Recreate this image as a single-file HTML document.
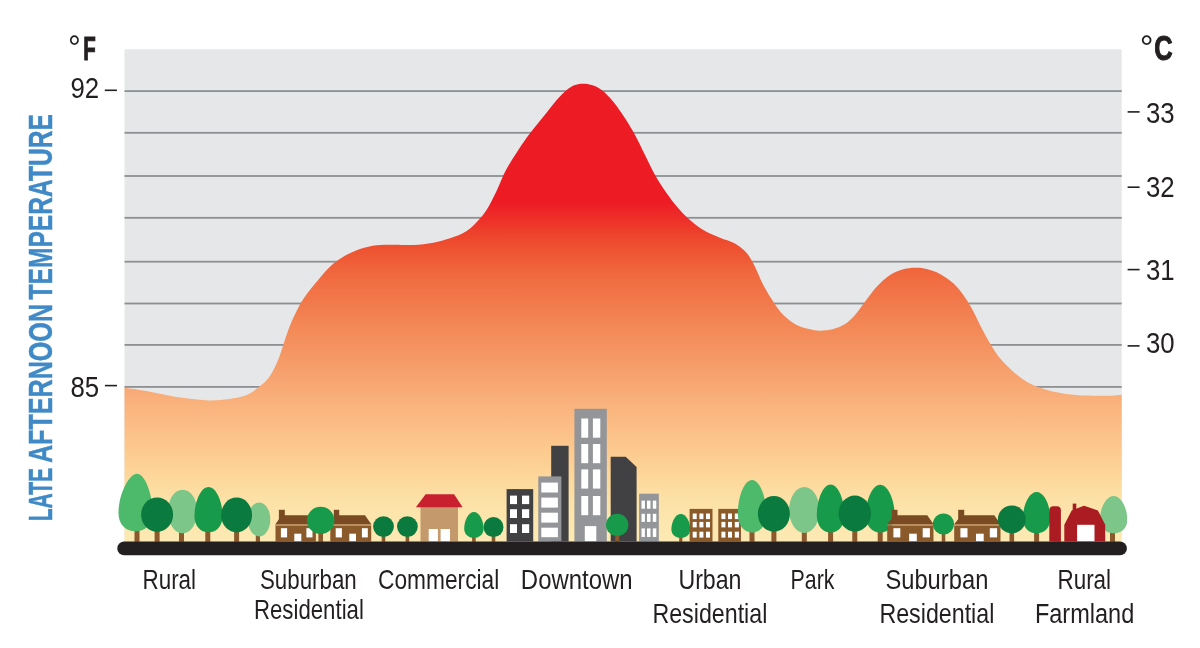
<!DOCTYPE html>
<html lang="en"><head><meta charset="utf-8"><title>Urban heat island profile</title>
<style>html,body{margin:0;padding:0;background:#fff}svg{display:block}</style></head>
<body>
<svg width="1200" height="648" viewBox="0 0 1200 648">
<defs><linearGradient id="heat" gradientUnits="userSpaceOnUse" x1="0" y1="83" x2="0" y2="542">
<stop offset="0.0000" stop-color="#ed1c24"/>
<stop offset="0.2614" stop-color="#ed1c24"/>
<stop offset="0.3529" stop-color="#ee4f2f"/>
<stop offset="0.4183" stop-color="#f0693f"/>
<stop offset="0.5381" stop-color="#f38a58"/>
<stop offset="0.6253" stop-color="#f69f6c"/>
<stop offset="0.6906" stop-color="#f9b07a"/>
<stop offset="0.7451" stop-color="#fbbd85"/>
<stop offset="0.7996" stop-color="#fcc98f"/>
<stop offset="0.8540" stop-color="#fdd69a"/>
<stop offset="0.9085" stop-color="#fce1a6"/>
<stop offset="0.9521" stop-color="#fce6ae"/>
<stop offset="1.0000" stop-color="#fce9b3"/>
</linearGradient></defs>
<rect width="1200" height="648" fill="#fff"/>
<rect x="124.5" y="49.3" width="997.2" height="492.7" fill="#e6e7e8"/>
<rect x="124.5" y="90.20" width="997.2" height="1.8" fill="#8d8f92"/>
<rect x="124.5" y="131.90" width="997.2" height="1.8" fill="#8d8f92"/>
<rect x="124.5" y="175.10" width="997.2" height="1.8" fill="#8d8f92"/>
<rect x="124.5" y="216.90" width="997.2" height="1.8" fill="#8d8f92"/>
<rect x="124.5" y="260.80" width="997.2" height="1.8" fill="#8d8f92"/>
<rect x="124.5" y="302.60" width="997.2" height="1.8" fill="#8d8f92"/>
<rect x="124.5" y="344.00" width="997.2" height="1.8" fill="#8d8f92"/>
<rect x="124.5" y="386.00" width="997.2" height="1.8" fill="#8d8f92"/>
<path d="M124.5,387.8 C128.8,388.4 141.6,390.2 150.0,391.7 C158.4,393.2 166.2,395.3 175.0,396.7 C183.8,398.1 196.1,399.4 203.0,400.0 C209.9,400.6 211.2,400.6 216.3,400.3 C221.4,400.0 228.2,399.2 233.3,398.3 C238.4,397.4 242.7,396.7 246.7,395.0 C250.7,393.3 253.7,391.1 257.3,388.3 C260.9,385.5 265.1,382.5 268.3,378.3 C271.5,374.1 274.3,368.6 276.7,363.3 C279.1,358.0 280.8,352.2 282.7,346.7 C284.6,341.1 286.2,335.6 288.3,330.0 C290.4,324.4 292.9,318.6 295.5,313.3 C298.1,308.0 300.3,303.6 303.8,298.3 C307.3,293.0 312.3,287.0 316.7,281.7 C321.1,276.4 325.6,270.9 330.0,266.7 C334.4,262.5 338.3,259.6 343.3,256.7 C348.3,253.8 354.4,250.9 360.0,249.0 C365.6,247.1 371.1,246.0 376.7,245.3 C382.2,244.6 387.2,244.8 393.3,244.7 C399.4,244.6 406.6,245.3 413.3,245.0 C420.0,244.7 427.2,243.8 433.3,242.7 C439.4,241.6 444.4,240.2 450.0,238.3 C455.6,236.4 461.7,234.3 466.7,231.0 C471.7,227.7 476.6,222.4 480.2,218.3 C483.8,214.2 485.7,211.4 488.5,206.7 C491.3,202.0 494.1,196.1 497.0,190.0 C499.9,183.9 502.4,176.7 506.0,170.0 C509.6,163.3 514.3,156.1 518.3,150.0 C522.3,143.9 525.8,138.9 530.0,133.3 C534.2,127.8 538.8,122.2 543.3,116.7 C547.8,111.2 552.8,104.5 556.7,100.0 C560.6,95.5 563.7,92.5 566.7,90.0 C569.8,87.5 572.2,86.0 575.0,85.0 C577.8,84.0 580.5,83.7 583.3,83.7 C586.1,83.7 588.6,84.0 591.7,85.0 C594.8,86.0 598.1,87.2 601.7,90.0 C605.3,92.8 609.4,97.0 613.3,101.7 C617.2,106.4 621.4,112.8 625.0,118.3 C628.6,123.8 631.7,128.9 635.0,135.0 C638.3,141.1 641.7,148.3 645.0,155.0 C648.3,161.7 651.4,168.6 655.0,175.0 C658.6,181.4 662.8,187.8 666.7,193.3 C670.6,198.9 674.4,203.9 678.3,208.3 C682.2,212.8 685.8,216.4 690.0,220.0 C694.2,223.6 698.3,227.1 703.3,230.0 C708.3,232.9 715.0,235.6 720.0,237.7 C725.0,239.8 729.7,240.9 733.3,242.7 C736.9,244.5 739.2,246.2 741.7,248.3 C744.2,250.4 746.1,251.9 748.3,255.0 C750.5,258.1 752.5,261.7 755.0,266.7 C757.5,271.7 760.2,279.2 763.3,285.0 C766.3,290.8 770.0,296.7 773.3,301.7 C776.6,306.7 779.4,311.1 783.3,315.0 C787.2,318.9 792.2,322.6 796.7,325.0 C801.2,327.4 806.1,328.4 810.0,329.3 C813.9,330.2 816.1,330.8 820.0,330.7 C823.9,330.6 829.1,330.1 833.3,329.0 C837.5,327.9 841.4,326.3 845.0,324.0 C848.6,321.7 851.7,318.7 855.0,315.0 C858.3,311.3 861.4,306.4 865.0,301.7 C868.6,297.0 872.5,291.1 876.7,286.7 C880.9,282.2 885.6,277.9 890.0,275.0 C894.4,272.1 899.1,270.5 903.3,269.3 C907.5,268.1 911.1,267.8 915.0,267.7 C918.9,267.6 922.5,267.9 926.7,269.0 C930.9,270.1 935.6,271.6 940.0,274.0 C944.4,276.4 949.4,279.8 953.3,283.3 C957.2,286.8 960.2,290.8 963.3,295.0 C966.4,299.2 968.9,303.3 971.7,308.3 C974.5,313.3 977.0,319.2 980.0,325.0 C983.0,330.8 986.7,337.8 990.0,343.3 C993.3,348.9 996.1,353.6 1000.0,358.3 C1003.9,363.0 1008.8,367.8 1013.3,371.7 C1017.8,375.6 1022.2,379.0 1026.7,381.7 C1031.2,384.4 1035.0,385.9 1040.0,387.7 C1045.0,389.5 1051.2,391.1 1056.7,392.3 C1062.2,393.5 1067.2,394.1 1073.3,394.7 C1079.4,395.3 1087.2,395.5 1093.3,395.7 C1099.4,395.9 1105.3,395.9 1110.0,395.7 C1114.7,395.5 1119.8,394.9 1121.7,394.7 L1121.7,542.0 L124.5,542.0 Z" fill="url(#heat)"/>
<rect x="134.5" y="527.3" width="5.0" height="14.5" fill="#8a5a2d"/><path d="M137.0,473.7 C144.7,473.7 152.5,493.3 152.5,512.9 C152.5,523.9 145.7,531.3 135.5,531.3 C125.3,531.3 118.5,523.9 118.5,512.9 C118.5,493.3 129.3,473.7 137.0,473.7 Z" fill="#4db96b"/>
<rect x="179.0" y="529.3" width="5.0" height="12.5" fill="#8a5a2d"/><ellipse cx="182.6" cy="511.5" rx="14.7" ry="21.8" fill="#7cc689"/>
<rect x="205.3" y="528.3" width="5.0" height="13.5" fill="#8a5a2d"/><path d="M208.5,487.0 C216.2,487.0 222.5,501.5 222.5,516.0 C222.5,525.8 216.9,532.3 208.5,532.3 C200.1,532.3 194.5,525.8 194.5,516.0 C194.5,501.5 200.8,487.0 208.5,487.0 Z" fill="#179a4a"/>
<rect x="255.8" y="532.4" width="4.2" height="9.4" fill="#8a5a2d"/><ellipse cx="259.1" cy="519.4" rx="11.2" ry="17.0" fill="#7cc689"/>
<rect x="154.6" y="527.9" width="5.0" height="13.9" fill="#8a5a2d"/><ellipse cx="157.1" cy="514.7" rx="16.0" ry="17.2" fill="#0b7a3e"/>
<rect x="234.1" y="528.4" width="5.0" height="13.4" fill="#8a5a2d"/><ellipse cx="236.6" cy="515.0" rx="15.5" ry="17.4" fill="#0b7a3e"/>
<rect x="278.9" y="509.8" width="5.9" height="10.2" fill="#7a4a22"/><polygon points="275.2,524.6 281.8,515.2 307.9,515.2 316.2,524.6" fill="#7a4a22"/><rect x="275.5" y="525.4" width="40.4" height="16.1" fill="#8b5a2b"/><rect x="275.5" y="524.4" width="40.4" height="1.0" fill="#b98a5c"/><rect x="280.9" y="528.2" width="6.2" height="9.2" fill="#fff"/><rect x="306.4" y="528.2" width="6.1" height="9.2" fill="#fff"/><rect x="294.3" y="533.7" width="7.0" height="7.8" fill="#fff"/>
<rect x="333.8" y="509.8" width="5.4" height="10.2" fill="#7a4a22"/><polygon points="330.0,524.6 336.2,515.2 365.0,515.2 371.5,524.6" fill="#7a4a22"/><rect x="330.3" y="525.4" width="40.9" height="16.1" fill="#8b5a2b"/><rect x="330.3" y="524.4" width="40.9" height="1.0" fill="#b98a5c"/><rect x="335.7" y="528.2" width="6.2" height="9.2" fill="#fff"/><rect x="361.9" y="528.2" width="5.9" height="9.2" fill="#fff"/><rect x="349.3" y="533.7" width="6.7" height="7.8" fill="#fff"/>
<rect x="318.4" y="530.1" width="4.6" height="11.7" fill="#8a5a2d"/><ellipse cx="320.7" cy="520.4" rx="13.7" ry="13.7" fill="#179a4a"/>
<rect x="381.7" y="533.0" width="3.6" height="8.8" fill="#8a5a2d"/><ellipse cx="383.5" cy="526.6" rx="10.4" ry="10.4" fill="#0b7a3e"/>
<rect x="405.6" y="533.0" width="3.6" height="8.8" fill="#8a5a2d"/><ellipse cx="407.4" cy="526.6" rx="10.4" ry="10.4" fill="#0b7a3e"/>
<rect x="420.5" y="507.0" width="37.5" height="34.5" fill="#c49a6c"/>
<polygon points="415.9,507.3 425.6,494.2 454.1,494.2 462.6,507.3" fill="#c8202f"/>
<rect x="428.7" y="529.0" width="9.2" height="12.5" fill="#fff"/>
<rect x="440.6" y="529.0" width="9.4" height="12.5" fill="#fff"/>
<rect x="472.1" y="533.9" width="3.6" height="7.9" fill="#8a5a2d"/><path d="M473.9,512.0 C479.2,512.0 483.6,520.3 483.6,528.6 C483.6,534.2 479.7,537.9 473.9,537.9 C468.1,537.9 464.2,534.2 464.2,528.6 C464.2,520.3 468.6,512.0 473.9,512.0 Z" fill="#179a4a"/>
<rect x="491.7" y="533.1" width="3.6" height="8.7" fill="#8a5a2d"/><ellipse cx="493.5" cy="527.1" rx="10.0" ry="10.0" fill="#0b7a3e"/>
<rect x="551.2" y="445.8" width="17.4" height="95.7" fill="#414042"/>
<rect x="506.6" y="489.1" width="26.6" height="52.4" fill="#414042"/>
<rect x="510.0" y="495.6" width="7.0" height="8.5" fill="#fff"/>
<rect x="510.0" y="509.2" width="7.0" height="8.8" fill="#fff"/>
<rect x="510.0" y="524.2" width="7.0" height="8.8" fill="#fff"/>
<rect x="522.0" y="495.6" width="7.2" height="8.5" fill="#fff"/>
<rect x="522.0" y="509.2" width="7.2" height="8.8" fill="#fff"/>
<rect x="522.0" y="524.2" width="7.2" height="8.8" fill="#fff"/>
<rect x="538.3" y="476.4" width="23.1" height="65.1" fill="#939598"/>
<rect x="541.3" y="482.6" width="16.6" height="9.9" fill="#fff"/>
<rect x="541.3" y="497.6" width="16.6" height="10.0" fill="#fff"/>
<rect x="541.3" y="512.7" width="16.6" height="9.9" fill="#fff"/>
<rect x="541.3" y="527.7" width="16.6" height="9.5" fill="#fff"/>
<rect x="574.4" y="408.8" width="32.4" height="132.7" fill="#939598"/>
<rect x="581.3" y="418.5" width="6.9" height="19.2" fill="#fff"/>
<rect x="581.3" y="444.0" width="6.9" height="19.2" fill="#fff"/>
<rect x="581.3" y="469.4" width="6.9" height="19.2" fill="#fff"/>
<rect x="581.3" y="496.0" width="6.9" height="19.2" fill="#fff"/>
<rect x="592.9" y="418.5" width="7.4" height="19.2" fill="#fff"/>
<rect x="592.9" y="444.0" width="7.4" height="19.2" fill="#fff"/>
<rect x="592.9" y="469.4" width="7.4" height="19.2" fill="#fff"/>
<rect x="592.9" y="496.0" width="7.4" height="19.2" fill="#fff"/>
<rect x="584.8" y="526.1" width="11.5" height="15.4" fill="#fff"/>
<polygon points="610.7,541.5 610.7,456.7 625.7,456.7 636.6,467.1 636.6,541.5" fill="#414042"/>
<rect x="639.1" y="493.7" width="19.7" height="47.8" fill="#939598"/>
<rect x="641.5" y="500.6" width="3.4" height="8.1" fill="#fff"/>
<rect x="641.5" y="513.8" width="3.4" height="8.1" fill="#fff"/>
<rect x="641.5" y="528.4" width="3.4" height="8.6" fill="#fff"/>
<rect x="647.0" y="500.6" width="3.5" height="8.1" fill="#fff"/>
<rect x="647.0" y="513.8" width="3.5" height="8.1" fill="#fff"/>
<rect x="647.0" y="528.4" width="3.5" height="8.6" fill="#fff"/>
<rect x="652.8" y="500.6" width="3.5" height="8.1" fill="#fff"/>
<rect x="652.8" y="513.8" width="3.5" height="8.1" fill="#fff"/>
<rect x="652.8" y="528.4" width="3.5" height="8.6" fill="#fff"/>
<rect x="615.2" y="532.1" width="4.0" height="9.7" fill="#8a5a2d"/><ellipse cx="617.2" cy="524.9" rx="11.2" ry="11.2" fill="#179a4a"/>
<rect x="679.2" y="533.9" width="3.2" height="7.9" fill="#8a5a2d"/><path d="M680.8,514.0 C686.0,514.0 690.2,521.6 690.2,529.3 C690.2,534.5 686.4,537.9 680.8,537.9 C675.2,537.9 671.4,534.5 671.4,529.3 C671.4,521.6 675.6,514.0 680.8,514.0 Z" fill="#179a4a"/>
<rect x="689.6" y="508.9" width="22.9" height="32.6" fill="#8b5a2b"/>
<rect x="692.7" y="513.5" width="4.0" height="5.6" fill="#fff"/>
<rect x="692.7" y="521.9" width="4.0" height="5.5" fill="#fff"/>
<rect x="692.7" y="531.7" width="4.0" height="5.9" fill="#fff"/>
<rect x="699.4" y="513.5" width="4.0" height="5.6" fill="#fff"/>
<rect x="699.4" y="521.9" width="4.0" height="5.5" fill="#fff"/>
<rect x="699.4" y="531.7" width="4.0" height="5.9" fill="#fff"/>
<rect x="706.0" y="513.5" width="4.0" height="5.6" fill="#fff"/>
<rect x="706.0" y="521.9" width="4.0" height="5.5" fill="#fff"/>
<rect x="706.0" y="531.7" width="4.0" height="5.9" fill="#fff"/>
<rect x="718.3" y="508.9" width="22.7" height="32.6" fill="#8b5a2b"/>
<rect x="721.4" y="513.5" width="4.0" height="5.6" fill="#fff"/>
<rect x="721.4" y="521.9" width="4.0" height="5.5" fill="#fff"/>
<rect x="721.4" y="531.7" width="4.0" height="5.9" fill="#fff"/>
<rect x="728.0" y="513.5" width="4.0" height="5.6" fill="#fff"/>
<rect x="728.0" y="521.9" width="4.0" height="5.5" fill="#fff"/>
<rect x="728.0" y="531.7" width="4.0" height="5.9" fill="#fff"/>
<rect x="734.8" y="513.5" width="4.1" height="5.6" fill="#fff"/>
<rect x="734.8" y="521.9" width="4.1" height="5.5" fill="#fff"/>
<rect x="734.8" y="531.7" width="4.1" height="5.9" fill="#fff"/>
<rect x="749.5" y="528.5" width="5.0" height="13.3" fill="#8a5a2d"/><path d="M752.0,480.0 C759.8,480.0 766.2,496.8 766.2,513.6 C766.2,524.9 760.5,532.5 752.0,532.5 C743.5,532.5 737.8,524.9 737.8,513.6 C737.8,496.8 744.2,480.0 752.0,480.0 Z" fill="#4db96b"/>
<rect x="801.8" y="529.0" width="5.0" height="12.8" fill="#8a5a2d"/><ellipse cx="804.3" cy="510.0" rx="15.2" ry="23.0" fill="#7cc689"/>
<rect x="828.1" y="528.5" width="5.0" height="13.3" fill="#8a5a2d"/><path d="M830.6,484.4 C838.2,484.4 844.4,499.8 844.4,515.2 C844.4,525.6 838.9,532.5 830.6,532.5 C822.3,532.5 816.8,525.6 816.8,515.2 C816.8,499.8 823.0,484.4 830.6,484.4 Z" fill="#179a4a"/>
<rect x="877.7" y="528.5" width="5.0" height="13.3" fill="#8a5a2d"/><path d="M880.2,484.7 C888.1,484.7 894.6,500.0 894.6,515.3 C894.6,525.6 888.8,532.5 880.2,532.5 C871.6,532.5 865.8,525.6 865.8,515.3 C865.8,500.0 872.3,484.7 880.2,484.7 Z" fill="#179a4a"/>
<rect x="771.4" y="527.7" width="5.0" height="14.1" fill="#8a5a2d"/><ellipse cx="773.9" cy="513.8" rx="16.0" ry="17.9" fill="#0b7a3e"/>
<rect x="852.3" y="527.6" width="5.0" height="14.2" fill="#8a5a2d"/><ellipse cx="854.8" cy="513.6" rx="16.2" ry="18.0" fill="#0b7a3e"/>
<rect x="891.8" y="509.8" width="5.7" height="10.2" fill="#7a4a22"/><polygon points="886.9,524.6 894.5,515.2 927.3,515.2 933.8,524.6" fill="#7a4a22"/><rect x="887.2" y="525.4" width="46.3" height="16.1" fill="#8b5a2b"/><rect x="887.2" y="524.4" width="46.3" height="1.0" fill="#b98a5c"/><rect x="893.4" y="528.2" width="6.9" height="9.2" fill="#fff"/><rect x="922.7" y="528.2" width="7.2" height="9.2" fill="#fff"/><rect x="909.1" y="533.7" width="7.7" height="7.8" fill="#fff"/>
<rect x="958.2" y="509.8" width="6.0" height="10.2" fill="#7a4a22"/><polygon points="953.9,524.6 961.4,515.2 994.3,515.2 1000.8,524.6" fill="#7a4a22"/><rect x="954.2" y="525.4" width="46.3" height="16.1" fill="#8b5a2b"/><rect x="954.2" y="524.4" width="46.3" height="1.0" fill="#b98a5c"/><rect x="960.4" y="528.2" width="7.1" height="9.2" fill="#fff"/><rect x="989.8" y="528.2" width="7.3" height="9.2" fill="#fff"/><rect x="976.0" y="533.7" width="7.7" height="7.8" fill="#fff"/>
<rect x="941.7" y="530.6" width="3.6" height="11.2" fill="#8a5a2d"/><ellipse cx="943.5" cy="524.0" rx="10.6" ry="10.6" fill="#179a4a"/>
<rect x="1034.1" y="529.3" width="5.0" height="12.5" fill="#8a5a2d"/><path d="M1036.6,491.9 C1044.1,491.9 1050.3,505.1 1050.3,518.4 C1050.3,527.3 1044.8,533.3 1036.6,533.3 C1028.4,533.3 1022.9,527.3 1022.9,518.4 C1022.9,505.1 1029.1,491.9 1036.6,491.9 Z" fill="#179a4a"/>
<rect x="1009.5" y="529.3" width="4.6" height="12.5" fill="#8a5a2d"/><ellipse cx="1011.8" cy="519.4" rx="13.9" ry="13.9" fill="#0b7a3e"/>
<path d="M1049.3,541.5 V510.3 Q1049.3,506.2 1053.4,506.2 H1056.8 Q1060.9,506.2 1060.9,510.3 V541.8 Z" fill="#aa1c21"/>
<clipPath id="cr"><rect x="0" y="0" width="1127" height="648"/></clipPath>
<g clip-path="url(#cr)"><rect x="1110.0" y="529.3" width="5.0" height="12.5" fill="#8a5a2d"/><path d="M1113.6,495.9 C1121.1,495.9 1127.3,507.9 1127.3,519.8 C1127.3,527.9 1121.8,533.3 1113.6,533.3 C1105.4,533.3 1099.9,527.9 1099.9,519.8 C1099.9,507.9 1106.1,495.9 1113.6,495.9 Z" fill="#7cc689"/></g>
<rect x="1072.7" y="503.6" width="3.6" height="8.4" fill="#aa1c21"/>
<polygon points="1064.3,541.5 1064.3,524.8 1071.7,510.4 1084,505.8 1097.9,510.4 1105.2,524.8 1105.2,541.5" fill="#aa1c21"/>
<rect x="1077.1" y="524.8" width="17.4" height="16.7" fill="#fff"/>
<rect x="117.3" y="541.6" width="1009.6" height="13.7" rx="6.9" ry="6.9" fill="#231f20"/>
<text transform="translate(142.45,589.00) scale(0.8228,1)" font-size="27.3" font-weight="normal" fill="#231f20" font-family="Liberation Sans, sans-serif">Rural</text>
<text transform="translate(259.97,588.50) scale(0.8175,1)" font-size="27.3" font-weight="normal" fill="#231f20" font-family="Liberation Sans, sans-serif">Suburban</text>
<text transform="translate(253.97,619.20) scale(0.8229,1)" font-size="27.0" font-weight="normal" fill="#231f20" font-family="Liberation Sans, sans-serif">Residential</text>
<text transform="translate(377.98,589.00) scale(0.8334,1)" font-size="27.3" font-weight="normal" fill="#231f20" font-family="Liberation Sans, sans-serif">Commercial</text>
<text transform="translate(520.86,589.00) scale(0.8769,1)" font-size="27.3" font-weight="normal" fill="#231f20" font-family="Liberation Sans, sans-serif">Downtown</text>
<text transform="translate(678.42,589.00) scale(0.8479,1)" font-size="27.3" font-weight="normal" fill="#231f20" font-family="Liberation Sans, sans-serif">Urban</text>
<text transform="translate(652.40,623.30) scale(0.8424,1)" font-size="27.6" font-weight="normal" fill="#231f20" font-family="Liberation Sans, sans-serif">Residential</text>
<text transform="translate(790.53,589.00) scale(0.7816,1)" font-size="27.3" font-weight="normal" fill="#231f20" font-family="Liberation Sans, sans-serif">Park</text>
<text transform="translate(885.38,589.00) scale(0.8697,1)" font-size="27.3" font-weight="normal" fill="#231f20" font-family="Liberation Sans, sans-serif">Suburban</text>
<text transform="translate(879.40,623.30) scale(0.8424,1)" font-size="27.6" font-weight="normal" fill="#231f20" font-family="Liberation Sans, sans-serif">Residential</text>
<text transform="translate(1057.45,589.00) scale(0.8228,1)" font-size="27.3" font-weight="normal" fill="#231f20" font-family="Liberation Sans, sans-serif">Rural</text>
<text transform="translate(1034.92,623.30) scale(0.8528,1)" font-size="27.6" font-weight="normal" fill="#231f20" font-family="Liberation Sans, sans-serif">Farmland</text>
<text transform="translate(70.39,97.70) scale(0.8800,1)" font-size="29.3" font-weight="normal" fill="#231f20" font-family="Liberation Sans, sans-serif">92</text>
<text transform="translate(70.41,396.90) scale(0.8800,1)" font-size="29.3" font-weight="normal" fill="#231f20" font-family="Liberation Sans, sans-serif">85</text>
<text transform="translate(1145.90,123.10) scale(0.8800,1)" font-size="29.3" font-weight="normal" fill="#231f20" font-family="Liberation Sans, sans-serif">33</text>
<text transform="translate(1145.90,196.90) scale(0.8800,1)" font-size="29.3" font-weight="normal" fill="#231f20" font-family="Liberation Sans, sans-serif">32</text>
<text transform="translate(1145.90,279.80) scale(0.8800,1)" font-size="29.3" font-weight="normal" fill="#231f20" font-family="Liberation Sans, sans-serif">31</text>
<text transform="translate(1145.90,353.10) scale(0.8800,1)" font-size="29.3" font-weight="normal" fill="#231f20" font-family="Liberation Sans, sans-serif">30</text>
<text transform="translate(68.09,60.40) scale(0.9256,1)" font-size="34.6" font-weight="normal" fill="#231f20" font-family="Liberation Sans, sans-serif">°</text>
<text transform="translate(83.16,60.00) scale(0.6096,1)" font-size="33.6" font-weight="bold" fill="#231f20" stroke="#231f20" stroke-width="0.9" vector-effect="non-scaling-stroke" stroke-linejoin="miter" font-family="Liberation Sans, sans-serif">F</text>
<text transform="translate(1139.63,60.40) scale(0.9980,1)" font-size="34.6" font-weight="normal" fill="#231f20" font-family="Liberation Sans, sans-serif">°</text>
<text transform="translate(1154.15,60.20) scale(0.7374,1)" font-size="34.6" font-weight="bold" fill="#231f20" stroke="#231f20" stroke-width="0.9" vector-effect="non-scaling-stroke" stroke-linejoin="miter" font-family="Liberation Sans, sans-serif">C</text>
<rect x="104.8" y="89.5" width="12.1" height="1.6" fill="#231f20"/>
<rect x="104.9" y="384.8" width="12.1" height="1.6" fill="#231f20"/>
<rect x="1127.6" y="111.1" width="12.0" height="1.6" fill="#231f20"/>
<rect x="1127.6" y="186.4" width="12.0" height="1.6" fill="#231f20"/>
<rect x="1127.6" y="268.8" width="12.0" height="1.6" fill="#231f20"/>
<rect x="1127.6" y="345.1" width="12.0" height="1.6" fill="#231f20"/>
<text transform="translate(52.30,521.37) rotate(-90) scale(0.6348,1)" font-size="33.2" font-weight="bold" fill="#3f8ac6" stroke="#3f8ac6" stroke-width="0.40" vector-effect="non-scaling-stroke" paint-order="stroke" font-family="Liberation Sans, sans-serif">LATE</text>
<text transform="translate(52.30,463.07) rotate(-90) scale(0.7570,1)" font-size="33.2" font-weight="bold" fill="#3f8ac6" stroke="#3f8ac6" stroke-width="0.40" vector-effect="non-scaling-stroke" paint-order="stroke" font-family="Liberation Sans, sans-serif">AFTERNOON</text>
<text transform="translate(52.30,299.50) rotate(-90) scale(0.7412,1)" font-size="33.2" font-weight="bold" fill="#3f8ac6" stroke="#3f8ac6" stroke-width="0.40" vector-effect="non-scaling-stroke" paint-order="stroke" font-family="Liberation Sans, sans-serif">TEMPERATURE</text>
</svg>
</body></html>
